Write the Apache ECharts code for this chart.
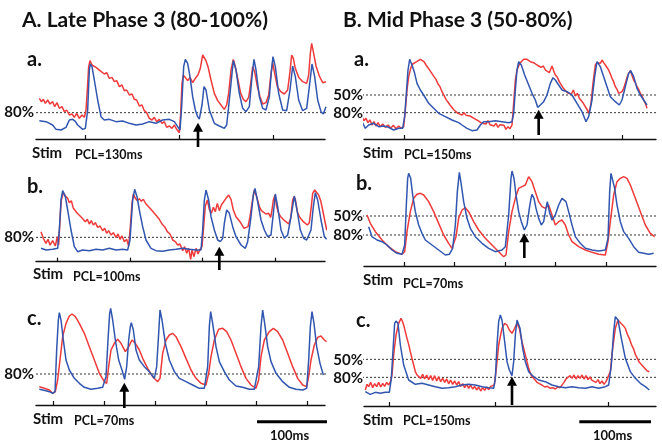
<!DOCTYPE html>
<html><head><meta charset="utf-8">
<script src="https://cdn.jsdelivr.net/npm/echarts@6/dist/echarts.min.js"></script>
<style>html,body{margin:0;padding:0;background:#fff}#c{width:662px;height:447px}</style>
</head><body><div id="c"></div>
<script>
// Time in samples (1 sample ~ 0.467 ms), signal in inverted optical units (a.u.)
const aaBlue = [[10,242],[30,245],[50,255],[60,268],[75,270],[90,262],[100,240],[110,238],[118,244],[125,255],[140,268],[148,265],[155,210],[160,90],[163,72],[168,80],[175,120],[185,180],[195,230],[205,240],[220,238],[240,245],[260,243],[280,250],[300,255],[320,252],[340,245],[360,250],[380,240],[400,238],[415,245],[425,260],[432,270],[437,200],[443,80],[448,58],[455,70],[462,110],[470,170],[478,210],[485,230],[490,237],[498,195],[504,140],[510,150],[520,210],[535,250],[550,258],[565,265],[572,255],[580,180],[588,100],[592,62],[600,90],[610,160],[620,205],[630,215],[640,200],[648,110],[654,58],[660,90],[670,170],[680,205],[690,210],[700,170],[706,95],[711,50],[718,80],[728,160],[740,210],[752,212],[762,150],[770,78],[778,110],[788,180],[800,212],[812,205],[820,140],[828,72],[836,110],[845,180],[855,215],[862,222],[870,200]];
const aaRed = [[10,175],[16,185],[22,178],[28,190],[35,180],[42,192],[50,185],[56,200],[63,188],[70,205],[78,200],[85,215],[92,210],[100,225],[108,222],[115,232],[122,220],[130,235],[138,225],[145,232],[150,210],[154,150],[158,80],[162,62],[168,75],[174,70],[180,82],[186,78],[192,92],[198,88],[205,102],[212,98],[220,115],[228,112],[235,125],[242,122],[250,140],[258,135],[265,152],[272,150],[280,165],[288,162],[295,178],[302,180],[310,198],[318,195],[325,212],[332,218],[340,235],[348,240],[355,232],[362,245],[370,238],[378,250],[385,245],[392,262],[400,258],[408,265],[415,255],[422,268],[430,278],[434,220],[438,130],[442,105],[448,100],[455,122],[462,112],[470,128],[478,115],[486,105],[493,85],[500,45],[504,42],[510,62],[516,80],[525,120],[535,160],[545,182],[555,195],[565,208],[572,195],[578,160],[585,90],[592,58],[598,80],[606,120],[614,160],[622,178],[630,185],[638,172],[644,130],[650,80],[656,95],[664,140],[672,170],[680,192],[690,188],[698,165],[704,110],[710,68],[716,100],[724,140],[734,155],[745,162],[755,150],[762,95],[767,45],[772,55],[778,85],[788,112],[800,125],[812,130],[818,105],[823,40],[827,10],[833,40],[840,78],[850,108],[860,128],[870,125]];

const abBlue = [[15,205],[30,210],[50,208],[65,205],[70,150],[75,60],[80,32],[88,50],[95,90],[105,150],[115,200],[125,215],[140,210],[160,212],[180,208],[200,210],[220,205],[240,210],[260,208],[275,210],[282,180],[290,60],[296,28],[303,50],[310,90],[320,140],[330,180],[345,205],[360,212],[380,214],[400,210],[420,208],[440,205],[460,208],[480,210],[495,210],[500,150],[505,60],[510,30],[518,60],[525,110],[535,150],[545,180],[553,185],[560,175],[565,130],[572,90],[580,100],[590,140],[600,170],[615,195],[628,205],[635,185],[645,110],[652,45],[657,25],[664,60],[675,120],[685,150],[695,170],[705,165],[712,100],[718,42],[725,80],[735,150],[745,175],[755,165],[765,110],[775,48],[783,90],[793,150],[803,175],[812,180],[825,150],[832,80],[838,38],[845,60],[855,120],[865,170],[872,178]];
const abRed = [[15,155],[22,175],[30,190],[36,178],[42,195],[50,182],[58,198],[64,170],[68,195],[72,120],[76,60],[82,38],[88,48],[95,55],[100,68],[106,62],[112,85],[118,80],[124,100],[130,95],[136,112],[142,108],[148,125],[154,118],[160,132],[166,122],[172,135],[178,128],[185,142],[192,138],[200,152],[206,145],[212,160],[218,152],[225,165],[232,158],[240,172],[246,162],[252,178],[258,168],[265,185],[272,178],[278,198],[283,140],[288,70],[292,42],[298,55],[304,62],[310,56],[316,64],[322,58],[330,72],[336,70],[342,85],[348,80],[355,100],[362,108],[370,118],[378,132],[386,140],[394,155],[402,162],[410,180],[418,185],[425,195],[432,192],[440,212],[446,200],[452,220],[458,205],[464,238],[468,210],[474,230],[480,205],[486,222],[492,208],[498,200],[503,140],[508,78],[514,60],[520,88],[526,100],[532,82],[538,95],[544,70],[550,92],[556,75],[562,70],[570,55],[578,45],[585,58],[592,90],[600,110],[606,105],[612,125],[618,120],[624,145],[630,150],[636,140],[642,110],[648,70],[655,30],[662,50],[670,80],[676,92],[682,88],[690,102],[698,100],[704,112],[708,90],[712,60],[717,45],[722,80],[728,100],[734,110],[740,105],[746,122],[752,118],[758,132],[764,115],[770,60],[774,50],[778,58],[784,95],[790,110],[796,118],[802,125],[808,122],[814,135],[820,128],[826,80],[830,40],[836,30],[842,35],[848,45],[854,62],[860,90],[866,120],[872,150],[878,140]];

const acBlue = [[10,268],[20,270],[30,272],[40,275],[50,280],[57,275],[62,150],[67,60],[70,38],[75,60],[82,120],[90,180],[100,210],[115,235],[130,250],[145,262],[165,268],[185,265],[200,262],[206,258],[210,230],[216,120],[221,40],[224,25],[230,60],[238,120],[248,180],[258,210],[266,238],[272,200],[278,120],[283,80],[286,68],[292,90],[300,150],[310,180],[325,200],[340,215],[350,228],[355,235],[362,200],[368,100],[372,30],[378,60],[388,130],[400,180],[415,215],[430,235],[450,245],[470,255],[490,265],[505,265],[510,262],[515,200],[520,80],[524,35],[530,70],[540,140],[550,185],[565,215],[580,240],[600,258],[620,262],[640,268],[655,268],[660,262],[668,200],[675,80],[680,30],[686,70],[695,140],[705,185],[720,220],[740,245],[760,262],[780,268],[800,270],[812,265],[818,180],[823,80],[828,35],[834,70],[842,140],[852,190],[862,225]];
const acRed = [[10,260],[25,265],[40,270],[50,280],[58,275],[65,240],[72,180],[80,110],[90,70],[100,48],[108,42],[118,50],[130,70],[145,100],[160,140],[175,180],[190,220],[205,245],[212,250],[218,200],[225,150],[235,130],[245,118],[255,130],[268,155],[278,140],[288,120],[298,130],[310,150],[320,175],[335,205],[350,230],[365,245],[372,235],[380,160],[390,120],[400,105],[410,100],[420,110],[435,140],[450,175],[465,210],[480,235],[495,250],[510,255],[518,220],[525,170],[535,120],[548,88],[560,85],[572,95],[585,120],[600,160],[615,200],[630,235],[645,255],[660,265],[668,240],[675,170],[685,120],[700,95],[712,85],[725,95],[740,120],[755,160],[770,200],[785,235],[800,255],[812,260],[818,230],[825,180],[835,135],[845,112],[855,108],[865,120],[872,125]];

const baBlue = [[0,215],[10,235],[20,225],[35,220],[50,230],[65,228],[80,232],[95,240],[110,235],[122,235],[128,200],[133,130],[138,60],[143,28],[150,45],[158,70],[165,100],[175,120],[185,135],[200,160],[215,175],[230,190],[250,200],[270,210],[290,218],[300,225],[315,235],[330,242],[345,240],[355,225],[365,215],[380,215],[400,212],[420,215],[440,218],[450,215],[455,190],[460,120],[465,60],[470,35],[478,45],[488,75],[498,100],[510,130],[520,150],[527,172],[535,165],[545,155],[555,135],[565,100],[573,83],[580,90],[590,105],[600,120],[615,125],[630,135],[645,160],[660,185],[672,215],[680,200],[690,150],[698,80],[705,35],[715,50],[725,80],[735,110],[745,140],[760,155],[772,165],[780,150],[790,110],[800,70],[806,62],[815,80],[825,115],[835,135],[845,150],[855,165]];
const baRed = [[0,200],[6,212],[12,205],[18,218],[24,210],[30,225],[36,215],[42,228],[48,218],[55,230],[62,222],[70,232],[78,225],[86,235],[94,226],[102,236],[110,228],[118,235],[125,230],[130,180],[135,120],[140,80],[146,55],[152,42],[158,45],[164,35],[170,40],[175,28],[180,30],[186,35],[192,45],[198,50],[204,62],[210,68],[216,80],[222,88],[228,102],[234,110],[240,125],[246,130],[252,148],[258,152],[264,165],[270,168],[276,180],[282,182],[288,190],[294,185],[300,195],[306,188],[312,196],[318,190],[324,198],[330,195],[336,205],[342,200],[348,212],[354,210],[360,220],[366,214],[372,222],[378,212],[384,224],[390,218],[396,228],[402,220],[408,232],[414,224],[420,230],[426,226],[432,238],[438,230],[444,236],[450,225],[455,160],[460,90],[465,60],[470,48],[475,38],[480,35],[485,28],[490,22],[495,28],[500,26],[505,35],[510,30],[515,38],[520,35],[525,45],[530,40],[537,52],[544,48],[550,60],[556,55],[562,68],[566,58],[570,48],[575,62],[580,75],[586,82],[592,95],[598,100],[604,115],[610,112],[616,128],[622,122],[628,132],[634,120],[640,138],[646,130],[652,145],[658,140],[664,160],[670,165],[676,180],[680,190],[684,175],[687,160],[693,100],[700,45],[705,38],[710,35],[715,40],[720,30],[725,38],[730,45],[735,50],[740,60],[745,72],[750,85],[755,95],[760,110],[765,118],[770,130],[775,132],[780,125],[785,115],[790,100],[795,82],[800,70],[805,62],[810,68],[815,90],[820,98],[825,110],[830,118],[835,130],[840,138],[845,150],[850,160],[855,175]];

const bbBlue = [[20,185],[30,215],[45,225],[60,230],[75,240],[90,255],[105,265],[120,268],[128,240],[133,120],[137,40],[140,25],[146,40],[152,90],[160,140],[170,180],[180,205],[190,225],[210,240],[230,255],[250,270],[262,268],[272,250],[280,180],[286,80],[292,22],[298,60],[305,110],[315,160],[325,190],[340,215],[360,235],[380,250],[400,260],[420,255],[430,245],[440,150],[447,40],[450,18],[456,40],[462,90],[470,140],[478,170],[487,195],[495,180],[502,130],[507,100],[510,88],[516,100],[522,130],[530,160],[538,180],[545,170],[552,130],[556,110],[562,140],[570,165],[580,150],[590,120],[600,100],[605,98],[612,110],[620,140],[630,180],[640,215],[655,235],[670,250],[690,255],[710,258],[730,255],[738,220],[743,80],[747,25],[752,30],[758,70],[765,120],[775,170],[785,200],[800,220],[815,245],[830,262],[845,265],[860,268],[875,265]];
const bbRed = [[15,150],[25,175],[40,200],[60,225],[80,245],[100,260],[120,268],[128,260],[135,200],[145,140],[155,100],[165,88],[175,85],[185,90],[200,110],[215,140],[230,175],[245,210],[260,235],[270,250],[275,255],[282,215],[290,160],[300,135],[310,128],[320,140],[335,170],[350,195],[370,220],[390,240],[410,260],[425,275],[432,270],[440,200],[450,140],[460,100],[470,70],[480,65],[490,60],[500,35],[510,50],[520,80],[530,110],[540,125],[550,130],[560,120],[570,150],[580,180],[590,170],[600,165],[610,180],[620,210],[630,230],[650,245],[670,255],[690,262],[710,268],[730,270],[738,230],[745,170],[755,90],[765,50],[775,40],[785,35],[795,40],[805,60],[820,100],[835,140],[850,180],[865,205],[878,215]];

const bcBlue = [[10,260],[25,268],[40,262],[55,265],[70,262],[82,262],[88,220],[94,120],[98,55],[102,48],[108,55],[115,120],[125,180],[140,225],[160,238],[180,235],[200,240],[220,245],[240,250],[260,248],[280,245],[300,240],[320,238],[340,240],[360,245],[380,248],[395,250],[400,220],[405,120],[410,50],[415,30],[420,45],[428,110],[435,170],[442,195],[450,212],[455,170],[460,90],[465,45],[468,40],[474,70],[482,130],[490,170],[500,200],[515,215],[530,225],[550,230],[570,240],[590,245],[610,248],[630,245],[650,248],[670,250],[690,245],[710,250],[730,245],[740,240],[748,180],[755,80],[760,35],[768,45],[778,100],[790,160],[805,200],[820,220],[835,235],[850,245],[862,255]];
const bcRed = [[10,255],[15,238],[20,245],[26,232],[32,248],[38,236],[44,245],[50,232],[56,246],[62,235],[68,244],[74,232],[80,240],[86,228],[90,210],[95,150],[102,90],[110,55],[117,40],[121,48],[125,60],[130,80],[135,100],[140,118],[145,140],[150,160],[155,180],[160,200],[165,210],[170,205],[176,220],[182,208],[188,222],[194,210],[200,224],[206,212],[212,226],[218,212],[224,228],[230,215],[236,230],[242,220],[248,232],[254,222],[260,236],[266,225],[272,238],[278,228],[284,240],[290,230],[296,244],[302,236],[308,248],[314,238],[320,250],[326,240],[332,252],[338,244],[344,255],[350,246],[356,258],[362,248],[368,256],[374,246],[380,254],[386,244],[392,250],[397,240],[402,200],[410,120],[420,70],[428,55],[435,60],[442,75],[450,85],[458,70],[465,55],[472,70],[480,110],[490,150],[500,190],[505,205],[510,215],[517,222],[525,232],[532,236],[540,240],[548,246],[556,244],[565,250],[572,248],[580,252],[587,246],[594,248],[600,242],[606,232],[612,222],[618,218],[624,212],[630,220],[636,210],[642,222],[648,212],[654,220],[660,210],[666,222],[672,212],[678,224],[684,216],[690,226],[696,220],[702,232],[708,224],[714,236],[720,228],[726,238],[732,230],[738,236],[745,200],[752,130],[760,70],[768,45],[774,52],[778,48],[784,62],[790,70],[796,88],[802,100],[808,118],[814,130],[820,148],[826,160],[832,172],[838,170],[844,185],[850,186],[856,198],[862,200]];

// Stimulus times (samples)
const stimAa = [148, 430, 712];
const stimAb = [64, 282, 500, 718];
const stimAc = [52, 205, 358, 512, 662, 815];
const stimBa = [127, 453, 780];
const stimBb = [127, 277, 430, 580, 733];
const stimBc = [82, 400, 738];

// Repolarisation reference levels (80% / 50%)
const levelsAa = [218];
const levelsAb = [172];
const levelsAc = [222];
const levelsBa = [135, 188];
const levelsBb = [153, 210];
const levelsBc = [163, 217];

// Arrow markers: [time, from level, head level]
const arrowAa = [486, 321, 262];
const arrowAb = [550, 270, 214];
const arrowAc = [265, 324, 262];
const arrowBa = [530, 255, 193];
const arrowBb = [487, 279, 218];
const arrowBc = [450, 300, 229];

// Scale bars (100 ms)
const scaleAc = [[663, 365], [876, 365]];
const scaleBc = [[652, 350], [867, 350]];

const RED = '#ef3a3a', BLUE = '#3156b0';
const FONT = 'Lato';

const panels = [
  {red: aaRed, blue: aaBlue, stim: stimAa, levels: levelsAa, arrow: arrowAa, left: 36, top: 40, width: 289, height: 99, xmin: 0, xmax: 867, ymax: 297, d0: 0, d1: 876},
  {red: abRed, blue: abBlue, stim: stimAb, levels: levelsAb, arrow: arrowAb, left: 36, top: 180, width: 289, height: 81.67, xmin: 0, xmax: 867, ymax: 245, d0: 0, d1: 876},
  {red: acRed, blue: acBlue, stim: stimAc, levels: levelsAc, arrow: arrowAc, left: 36, top: 300, width: 289, height: 105, xmin: 0, xmax: 867, ymax: 315, d0: 0, d1: 876, scale: scaleAc},
  {red: baRed, blue: baBlue, stim: stimBa, levels: levelsBa, arrow: arrowBa, left: 364, top: 50, width: 292, height: 89, xmin: 6, xmax: 882, ymax: 267, d0: 0, d1: 891},
  {red: bbRed, blue: bbBlue, stim: stimBb, levels: levelsBb, arrow: arrowBb, left: 364, top: 165, width: 292, height: 101, xmin: 6, xmax: 882, ymax: 303, d0: 0, d1: 891},
  {red: bcRed, blue: bcBlue, stim: stimBc, levels: levelsBc, arrow: arrowBc, left: 364, top: 305, width: 292, height: 101, xmin: 6, xmax: 882, ymax: 303, d0: 0, d1: 891, scale: scaleBc}
];

const grid = [], xAxis = [], yAxis = [], series = [];
panels.forEach((p, i) => {
  grid.push({left: p.left, top: p.top, width: p.width, height: p.height, containLabel: false});
  xAxis.push({type: 'value', gridIndex: i, min: p.xmin, max: p.xmax, position: 'bottom',
    axisLine: {show: true, onZero: false, lineStyle: {color: '#111', width: 1.4}},
    axisTick: {show: true, inside: true, length: 4, customValues: p.stim, lineStyle: {color: '#111', width: 1.2}},
    axisLabel: {show: false}, splitLine: {show: false}});
  yAxis.push({type: 'value', gridIndex: i, min: 0, max: p.ymax, inverse: true, show: false, splitLine: {show: false}});
  p.levels.forEach(v => {
    series.push({type: 'line', xAxisIndex: i, yAxisIndex: i, data: [[p.d0, v], [p.d1, v]], showSymbol: false, clip: false,
      lineStyle: {color: '#333', width: 1, type: [2, 2]}, silent: true, z: 1});
  });
  series.push({type: 'line', xAxisIndex: i, yAxisIndex: i, data: p.red, showSymbol: false, clip: false,
    lineStyle: {color: RED, width: 1.5}, itemStyle: {color: RED}, z: 2, silent: true});
  series.push({type: 'line', xAxisIndex: i, yAxisIndex: i, data: p.blue, showSymbol: false, clip: false,
    lineStyle: {color: BLUE, width: 1.5}, itemStyle: {color: BLUE}, z: 3, silent: true});
  series.push({type: 'line', xAxisIndex: i, yAxisIndex: i, clip: false, symbol: 'none', showSymbol: true, silent: true, z: 5,
    lineStyle: {color: '#000', width: 2.6}, itemStyle: {color: '#000'},
    data: [[p.arrow[0], p.arrow[1]], {value: [p.arrow[0], p.arrow[2]], symbol: 'triangle', symbolSize: [10, 9]}]});
  if (p.scale) {
    series.push({type: 'line', xAxisIndex: i, yAxisIndex: i, data: p.scale, showSymbol: false, clip: false,
      lineStyle: {color: '#000', width: 3}, silent: true});
  }
});

const texts = [
  ['A. Late Phase 3 (80-100%)', 22, 20, 21, 'left'],
  ['B. Mid Phase 3 (50-80%)', 343, 20, 21, 'left'],
  ['a.', 27, 60, 20, 'left'], ['a.', 354, 60, 20, 'left'],
  ['b.', 27, 187, 20, 'left'], ['b.', 356, 184, 20, 'left'],
  ['c.', 27, 319, 20, 'left'], ['c.', 356, 320.5, 20, 'left'],
  ['80%', 34, 112, 15, 'right'],
  ['50%', 363, 95, 15, 'right'], ['80%', 363, 113, 15, 'right'],
  ['80%', 34, 237, 15, 'right'],
  ['50%', 363, 216.5, 15, 'right'], ['80%', 363, 235, 15, 'right'],
  ['80%', 34, 374, 15, 'right'],
  ['50%', 363, 360.5, 15, 'right'], ['80%', 363, 378.3, 15, 'right'],
  ['Stim', 32, 153.5, 15, 'left'], ['Stim', 363, 153.5, 15, 'left'],
  ['Stim', 33, 274.5, 15, 'left'], ['Stim', 363, 280, 15, 'left'],
  ['Stim', 33, 418.7, 15, 'left'], ['Stim', 363, 420, 15, 'left'],
  ['PCL=130ms', 75, 155, 12.5, 'left'], ['PCL=150ms', 404, 155, 12.5, 'left'],
  ['PCL=100ms', 73, 277, 12.5, 'left'], ['PCL=70ms', 403, 283.5, 12.5, 'left'],
  ['PCL=70ms', 74, 420.5, 12.5, 'left'], ['PCL=150ms', 403, 421.3, 12.5, 'left'],
  ['100ms', 270, 436, 13, 'left'], ['100ms', 593, 436, 13, 'left']
];

const graphic = texts.map(t => ({type: 'text', x: t[1], y: t[2], silent: true,
  style: {text: t[0], font: 'bold ' + t[3] + 'px ' + FONT, fill: '#111', align: t[4], verticalAlign: 'middle'}}));

const chart = echarts.init(document.getElementById('c'), null, {renderer: 'canvas'});
chart.setOption({animation: false, backgroundColor: '#fff', grid, xAxis, yAxis, series, graphic});
</script></body></html>
